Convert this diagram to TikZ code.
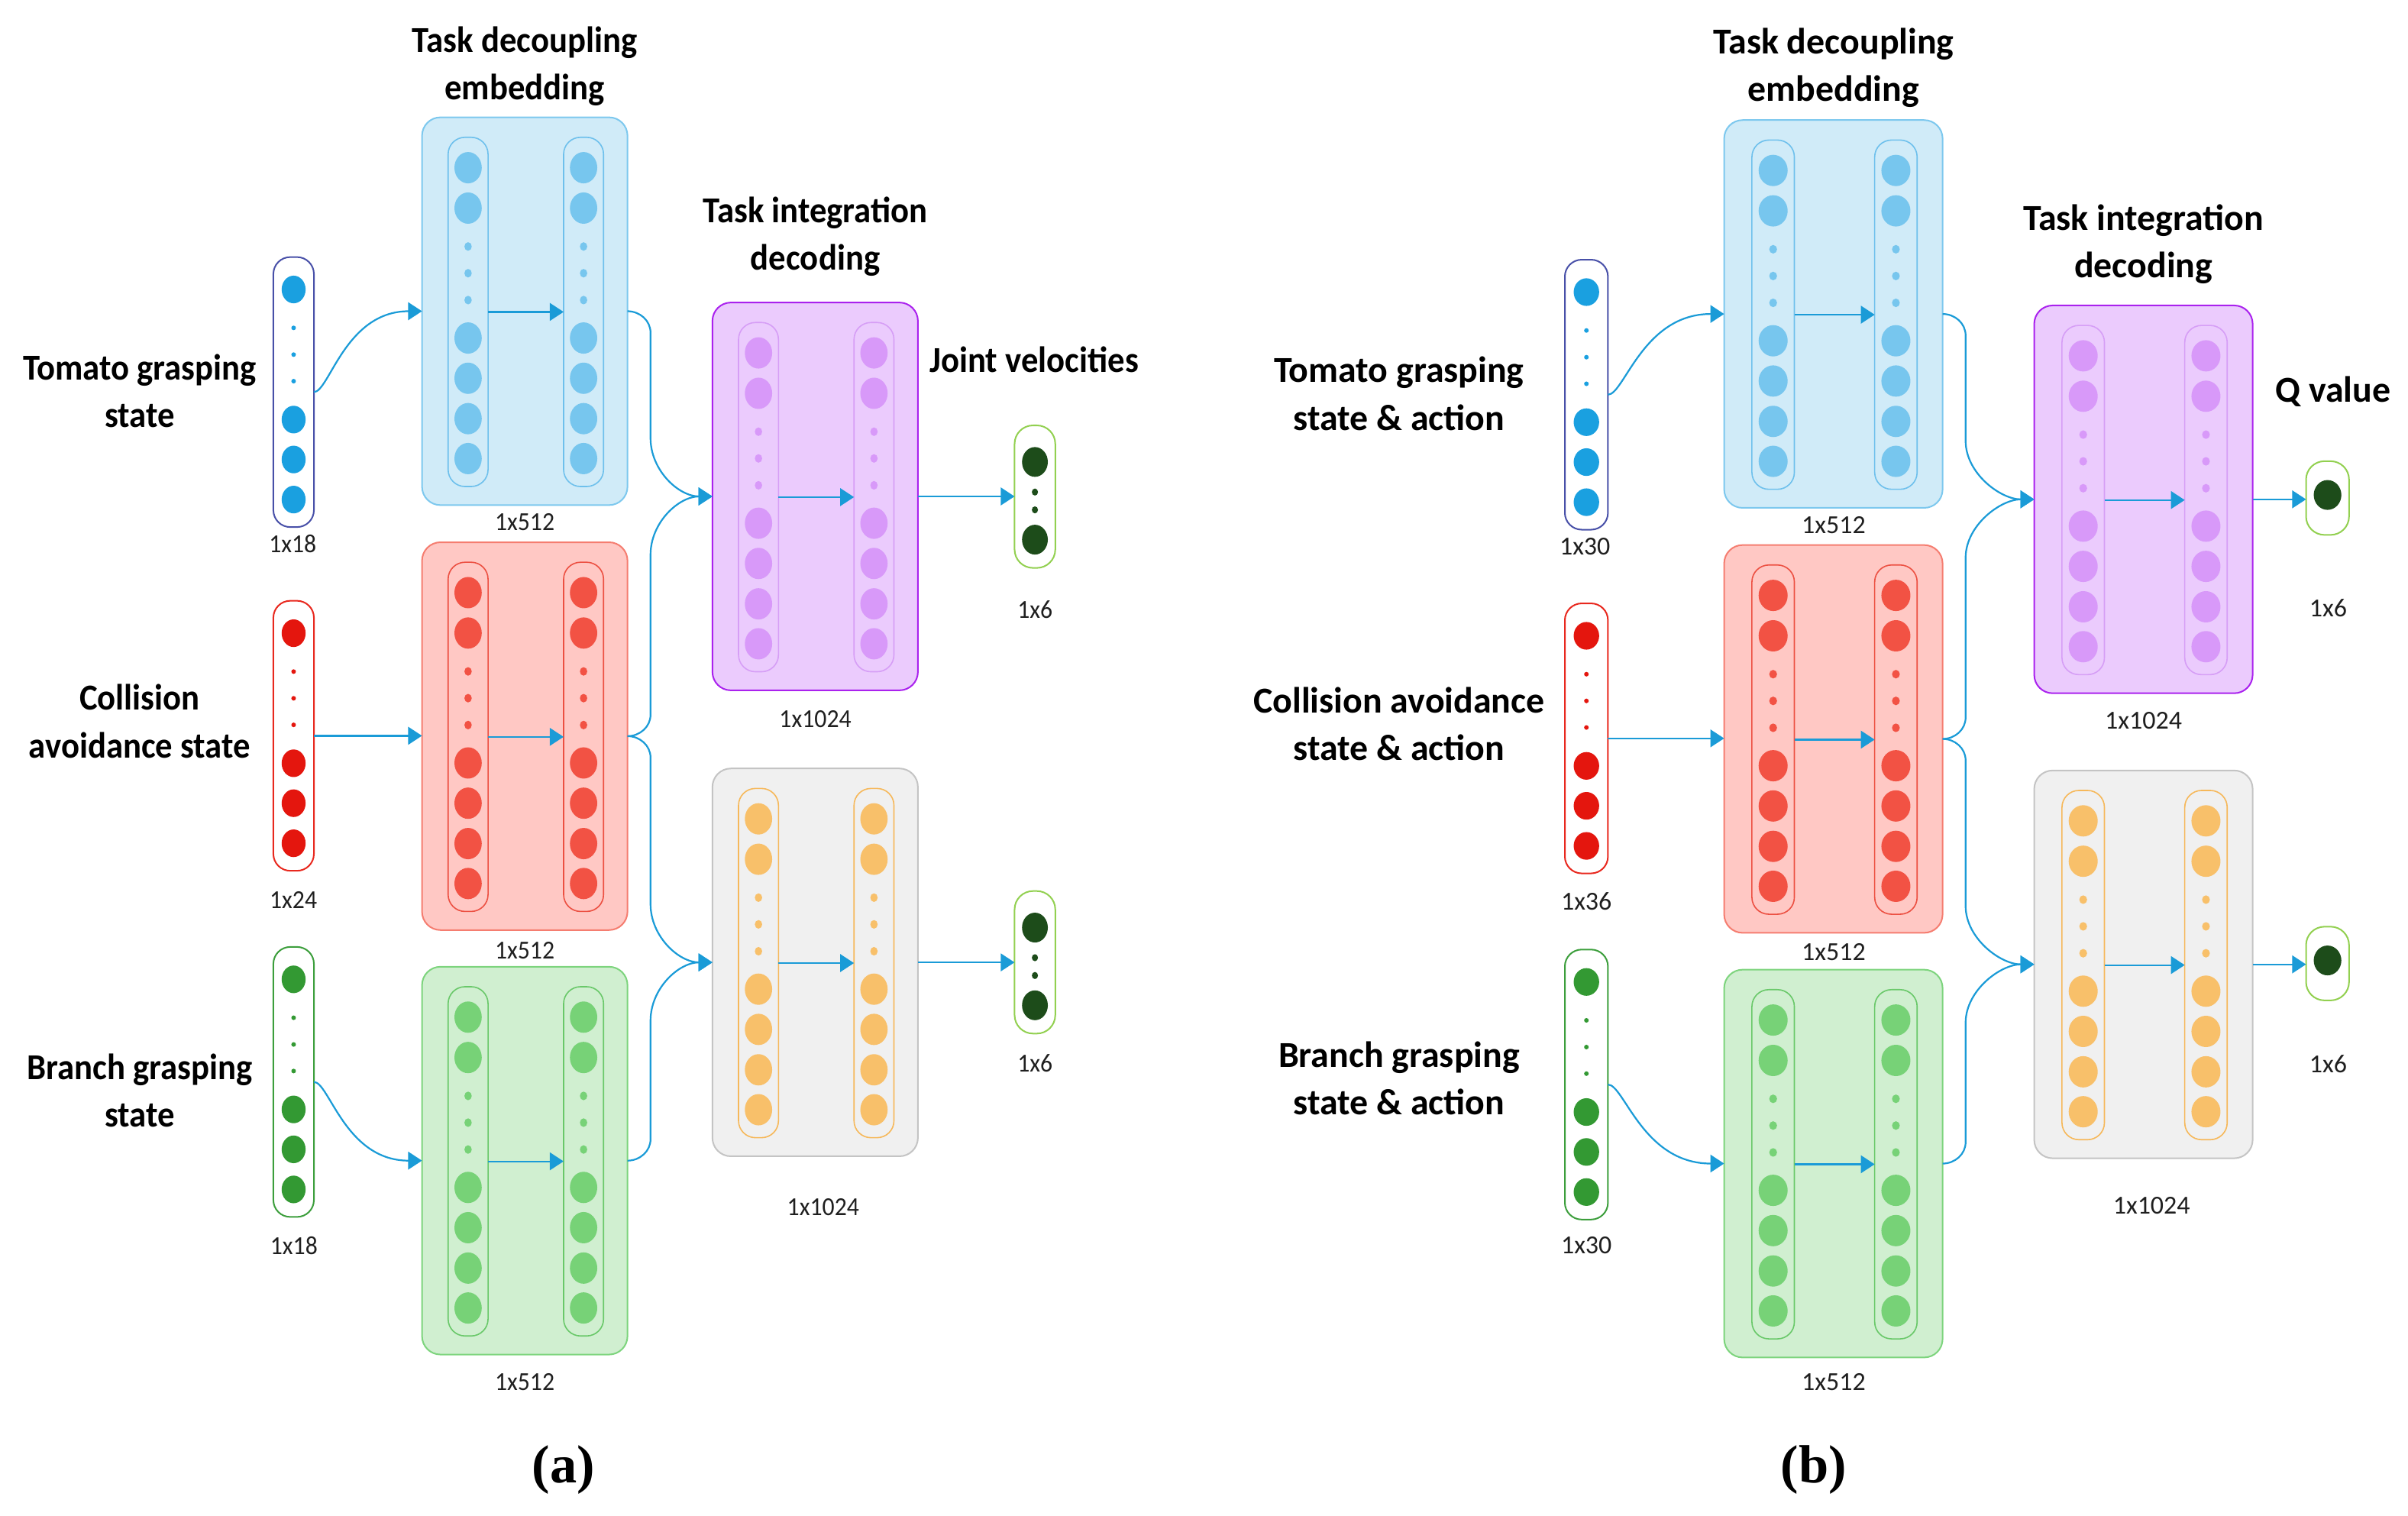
\documentclass[tikz,border=0pt]{standalone}
\usepackage{fontspec}
\usepackage{graphicx}
\setmainfont{Carlito}
\newfontfamily\fontA[FakeStretch=0.934]{Carlito}
\newfontfamily\capfont{Liberation Serif}
\usetikzlibrary{arrows.meta,calc}

\definecolor{connC}{RGB}{26,155,215}
\definecolor{bluFill}{RGB}{208,235,248}
\definecolor{bluLine}{RGB}{125,200,238}
\definecolor{bluDot}{RGB}{119,198,238}
\definecolor{bluCol}{RGB}{110,192,236}
\definecolor{inBlue}{RGB}{26,160,224}
\definecolor{inBlueLine}{RGB}{72,80,168}
\definecolor{redFill}{RGB}{255,200,196}
\definecolor{redLine}{RGB}{245,125,112}
\definecolor{redDot}{RGB}{242,82,68}
\definecolor{redCol}{RGB}{236,80,66}
\definecolor{inRed}{RGB}{228,22,14}
\definecolor{inRedLine}{RGB}{232,40,30}
\definecolor{grnFill}{RGB}{208,239,208}
\definecolor{grnLine}{RGB}{125,212,125}
\definecolor{grnDot}{RGB}{119,210,119}
\definecolor{grnCol}{RGB}{105,200,105}
\definecolor{inGrn}{RGB}{51,153,51}
\definecolor{inGrnLine}{RGB}{60,158,60}
\definecolor{purFill}{RGB}{235,203,253}
\definecolor{purLine}{RGB}{170,34,238}
\definecolor{purDot}{RGB}{216,153,249}
\definecolor{purCol}{RGB}{214,158,246}
\definecolor{gryFill}{RGB}{240,240,240}
\definecolor{gryLine}{RGB}{196,196,196}
\definecolor{orgDot}{RGB}{248,192,106}
\definecolor{orgCol}{RGB}{246,184,90}
\definecolor{outLine}{RGB}{146,208,80}
\definecolor{outDot}{RGB}{29,76,26}

% block: name, left, top, sx, box style, circle colour, column colour
\newcommand{\nnBlock}[7]{%
  \pgfmathsetmacro{\nnW}{133.8*#4}%
  \pgfmathsetmacro{\nnCW}{26*#4}%
  \node[blockbox, #5, minimum width=\nnW pt, anchor=north west] (#1) at (#2,#3) {};%
  \foreach \k/\cx in {1/30,2/105.2}{%
    \pgfmathsetmacro{\nnX}{#2+\cx*#4}%
    \node[colbox, draw=#7, minimum width=\nnCW pt] (#1-c\k) at (\nnX,#3+126.7) {};%
    \foreach \dy in {32.8,59.1,143.7,169.9,196.2,222.2}{\fill[#6] (\nnX,#3+\dy) ellipse [x radius=8.9pt*#4, y radius=10.2pt];}%
    \foreach \dy in {84.1,101.5,119}{\fill[#6] (\nnX,#3+\dy) ellipse [x radius=2.4pt*#4, y radius=2.8pt];}%
  }%
  \draw[conn] (#1-c1.east) -- (#1-c2.west);%
}
% input column: name, cx, top, sx, outline colour, circle colour
\newcommand{\nnInput}[6]{%
  \pgfmathsetmacro{\nnCW}{26.4*#4}%
  \node[inbox, draw=#5, minimum width=\nnCW pt, anchor=north] (#1) at (#2,#3) {};%
  \foreach \dy in {21.1,105.8,131.8,157.9}{\fill[#6] (#2,#3+\dy) ellipse [x radius=7.8pt*#4, y radius=9pt];}%
  \foreach \dy in {46.1,63.5,80.8}{\fill[#6] (#2,#3+\dy) circle [radius=1.5pt];}%
}
% two-circle output column: name, cx, top
\newcommand{\nnOutTwo}[3]{%
  \node[outbox, minimum width=26.5pt, minimum height=92.8pt, anchor=north] (#1) at (#2,#3) {};%
  \foreach \dy in {23.8,74.4}{\fill[outDot] (#2,#3+\dy) ellipse [x radius=8.4pt, y radius=9.7pt];}%
  \foreach \dy in {43.4,55}{\fill[outDot] (#2,#3+\dy) ellipse [x radius=2pt, y radius=2.3pt];}%
}
% one-circle output column: name, cx, top
\newcommand{\nnOutOne}[3]{%
  \node[outbox, minimum width=28pt, minimum height=48pt, anchor=north] (#1) at (#2,#3) {};%
  \fill[outDot] (#2,#3+22) ellipse [x radius=9pt, y radius=9.7pt];%
}
% split connector: source, target, sign (1 = down, -1 = up)
\newcommand{\splitConn}[3]{%
  \path (#1.east) ++(15,14*#3) coordinate (#1-#2-a);%
  \path (#2.west) ++(0,-38*#3) coordinate (#1-#2-t);%
  \coordinate (#1-#2-b) at (#1-#2-a |- #1-#2-t);%
  \draw[conn] (#1.east) .. controls +(8,0) and +(0,-8*#3) .. (#1-#2-a) -- (#1-#2-b) .. controls +(0,21*#3) and +(-22,0) .. (#2.west);%
}

\begin{document}
\begin{tikzpicture}[x=1pt,y=-1pt,
  blockbox/.style={rectangle, rounded corners=12pt, line width=1pt, minimum height=252.5pt, inner sep=0pt, outer sep=0pt},
  colbox/.style={rectangle, rounded corners=11pt, line width=0.8pt, minimum height=227.4pt, inner sep=0pt, outer sep=0pt},
  inbox/.style={rectangle, rounded corners=11pt, line width=1pt, minimum height=175.8pt, inner sep=0pt, outer sep=0pt},
  outbox/.style={rectangle, rounded corners=12pt, line width=1pt, draw=outLine, inner sep=0pt, outer sep=0pt},
  conn/.style={draw=connC, line width=1.1pt, -{Triangle[length=9pt,width=11.5pt]}},
  titleA/.style={font=\fontA\bfseries\fontsize{23.8}{28}\selectfont, anchor=base, inner sep=0pt},
  titleB/.style={font=\bfseries\fontsize{23.8}{28}\selectfont, anchor=base, inner sep=0pt},
  dimA/.style={font=\fontA\fontsize{16.9}{20}\selectfont, anchor=base, inner sep=0pt, text=black!88},
  dimB/.style={font=\fontsize{16.9}{20}\selectfont, anchor=base, inner sep=0pt, text=black!88},
  capt/.style={font=\capfont\bfseries\fontsize{35}{40}\selectfont, anchor=base, inner sep=0pt}
]
\useasboundingbox (0,0) rectangle (1568,987);

% ---------------- panel (a) ----------------
\nnBlock{blueA}{274.8}{76.4}{1}{fill=bluFill,draw=bluLine}{bluDot}{bluCol}
\nnBlock{redA}{274.8}{353.1}{1}{fill=redFill,draw=redLine}{redDot}{redCol}
\nnBlock{grnA}{274.8}{629.5}{1}{fill=grnFill,draw=grnLine}{grnDot}{grnCol}
\nnBlock{purA}{463.9}{197}{1}{fill=purFill,draw=purLine}{purDot}{purCol}
\nnBlock{gryA}{463.9}{500.4}{1}{fill=gryFill,draw=gryLine}{orgDot}{orgCol}

\nnInput{inTA}{191.2}{167.4}{1}{inBlueLine}{inBlue}
\nnInput{inCA}{191.2}{391.2}{1}{inRedLine}{inRed}
\nnInput{inBA}{191.2}{616.6}{1}{inGrnLine}{inGrn}

\nnOutTwo{outA1}{673.9}{277}
\nnOutTwo{outA2}{673.9}{580.2}

\draw[conn] (inTA.east) .. controls +(10,0) and +(-50,0) .. (blueA.west);
\draw[conn] (inCA.east) -- (inCA.east -| redA.west);
\draw[conn] (inBA.east) .. controls +(10,0) and +(-50,0) .. (grnA.west);
\splitConn{blueA}{purA}{1}
\splitConn{redA}{purA}{-1}
\splitConn{redA}{gryA}{1}
\splitConn{grnA}{gryA}{-1}
\draw[conn] (purA.east) -- (purA.east -| outA1.west);
\draw[conn] (gryA.east) -- (gryA.east -| outA2.west);

\node[titleA] (tA1) at (341.7,34) {Task decoupling};
\node[titleA] (tA2) at (341.7,65) {embedding};
\node[titleA] (tA3) at (530.9,145) {Task integration};
\node[titleA] (tA4) at (530.9,176) {decoding};
\node[titleA] (tA5) at (673.4,242.5) {Joint velocities};
\node[titleA] (tA6) at (91,247.3) {Tomato grasping};
\node[titleA] (tA7) at (91,278.1) {state};
\node[titleA] (tA8) at (91,462) {Collision};
\node[titleA] (tA9) at (91,493.5) {avoidance state};
\node[titleA] (tA10) at (91,703) {Branch grasping};
\node[titleA] (tA11) at (91,734) {state};

\node[dimA] (dA1) at (190.6,360) {1x18};
\node[dimA] (dA2) at (191,591.5) {1x24};
\node[dimA] (dA3) at (191.4,817) {1x18};
\node[dimA] (dA4) at (341.7,345.5) {1x512};
\node[dimA] (dA5) at (341.7,624.5) {1x512};
\node[dimA] (dA6) at (341.7,905.5) {1x512};
\node[dimA] (dA7) at (530.9,473.5) {1x1024};
\node[dimA] (dA8) at (536,791.5) {1x1024};
\node[dimA] (dA9) at (674,402.5) {1x6};
\node[dimA] (dA10) at (674,698) {1x6};

\node[capt] (capA) at (367,965.5) {(a)};

% ---------------- panel (b) ----------------
\nnBlock{blueB}{1122.7}{78.2}{1.063}{fill=bluFill,draw=bluLine}{bluDot}{bluCol}
\nnBlock{redB}{1122.7}{354.9}{1.063}{fill=redFill,draw=redLine}{redDot}{redCol}
\nnBlock{grnB}{1122.7}{631.4}{1.063}{fill=grnFill,draw=grnLine}{grnDot}{grnCol}
\nnBlock{purB}{1324.6}{198.9}{1.063}{fill=purFill,draw=purLine}{purDot}{purCol}
\nnBlock{gryB}{1324.6}{501.7}{1.063}{fill=gryFill,draw=gryLine}{orgDot}{orgCol}

\nnInput{inTB}{1033}{169.1}{1.063}{inBlueLine}{inBlue}
\nnInput{inCB}{1033}{392.9}{1.063}{inRedLine}{inRed}
\nnInput{inBB}{1033}{618.3}{1.063}{inGrnLine}{inGrn}

\nnOutOne{outB1}{1515.6}{300.3}
\nnOutOne{outB2}{1515.6}{603.4}

\draw[conn] (inTB.east) .. controls +(10.6,0) and +(-53,0) .. (blueB.west);
\draw[conn] (inCB.east) -- (inCB.east -| redB.west);
\draw[conn] (inBB.east) .. controls +(10.6,0) and +(-53,0) .. (grnB.west);
\splitConn{blueB}{purB}{1}
\splitConn{redB}{purB}{-1}
\splitConn{redB}{gryB}{1}
\splitConn{grnB}{gryB}{-1}
\draw[conn] (purB.east) -- (purB.east -| outB1.west);
\draw[conn] (gryB.east) -- (gryB.east -| outB2.west);

\node[titleB] (tB1) at (1194,35) {Task decoupling};
\node[titleB] (tB2) at (1194,66) {embedding};
\node[titleB] (tB3) at (1395.7,150) {Task integration};
\node[titleB] (tB4) at (1395.7,181) {decoding};
\node[titleB] (tB5) at (1519.3,261.9) {Q value};
\node[titleB] (tB6) at (911,249) {Tomato grasping};
\node[titleB] (tB7) at (911,280) {state \& action};
\node[titleB] (tB8) at (911,464) {Collision avoidance};
\node[titleB] (tB9) at (911,495) {state \& action};
\node[titleB] (tB10) at (911,695) {Branch grasping};
\node[titleB] (tB11) at (911,726) {state \& action};

\node[dimB] (dB1) at (1032,361.5) {1x30};
\node[dimB] (dB2) at (1033,592.5) {1x36};
\node[dimB] (dB3) at (1033,816.5) {1x30};
\node[dimB] (dB4) at (1194,347.5) {1x512};
\node[dimB] (dB5) at (1194,625.5) {1x512};
\node[dimB] (dB6) at (1194,905.5) {1x512};
\node[dimB] (dB7) at (1395.7,474.5) {1x1024};
\node[dimB] (dB8) at (1401,790.5) {1x1024};
\node[dimB] (dB9) at (1516,401.6) {1x6};
\node[dimB] (dB10) at (1516,698.5) {1x6};

\node[capt] (capB) at (1181,965.5) {(b)};
\end{tikzpicture}
\end{document}
